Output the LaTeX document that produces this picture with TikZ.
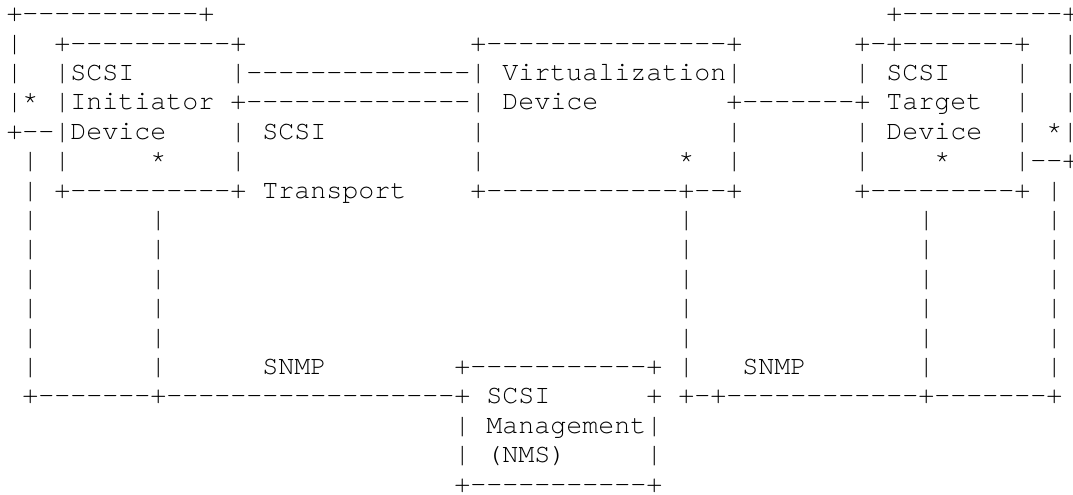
\documentclass[tikz,border=0pt]{standalone}
\usepackage{fontspec}
\newfontfamily\asciifont{texgyrecursor-regular.otf}[Ligatures=TeXOff]
\ExplSyntaxOn
\cs_new:Npn \asciidash #1 { \prg_replicate:nn {#1} {-} }
\ExplSyntaxOff
\newcommand\asciigap[1]{\hskip#1\dimexpr.6em\relax}
\tikzset{asciirow/.style={anchor=base west,inner sep=0pt,outer sep=0pt,
    font=\asciifont\fontsize{13.333pt}{14.7pt}\selectfont}}

\begin{document}
\begin{tikzpicture}[x=0.5pt,y=0.5pt]
    \useasboundingbox (0,0) rectangle (1073,494);
    \begin{scope}[shift={(6.5,472.3)},x=8pt,y=-14.7pt]
        % initiator, virtualization and target boxes
        \node[asciirow] (r0) at (0,0) {+\asciidash{11}+\asciigap{42}+\asciidash{10}\rlap{+}};
        \node[asciirow] (r1) at (0,1) {|\asciigap{2}+\asciidash{10}+\asciigap{14}+\asciidash{15}+\asciigap{7}+-+\asciidash{7}+\asciigap{2}\rlap{|}};
        \node[asciirow] (r2) at (0,2) {|\asciigap{2}|SCSI\asciigap{6}|\asciidash{14}|\asciigap{1}Virtualization|\asciigap{7}|\asciigap{1}SCSI\asciigap{4}|\asciigap{2}\rlap{|}};
        \node[asciirow] (r3) at (0,3) {|*\asciigap{1}|Initiator\asciigap{1}+\asciidash{14}|\asciigap{1}Device\asciigap{8}+\asciidash{7}+\asciigap{1}Target\asciigap{2}|\asciigap{2}\rlap{|}};
        \node[asciirow] (r4) at (0,4) {+--|Device\asciigap{4}|\asciigap{1}SCSI\asciigap{9}|\asciigap{15}|\asciigap{7}|\asciigap{1}Device\asciigap{2}|\asciigap{1}*\rlap{|}};
        \node[asciirow] (r5) at (0,5) {\asciigap{1}|\asciigap{1}|\asciigap{5}*\asciigap{4}|\asciigap{14}|\asciigap{12}*\asciigap{2}|\asciigap{7}|\asciigap{4}*\asciigap{4}|-\rlap{-+}};
        \node[asciirow] (r6) at (0,6) {\asciigap{1}|\asciigap{1}+\asciidash{10}+\asciigap{1}Transport\asciigap{4}+\asciidash{12}+--+\asciigap{7}+\asciidash{9}+\asciigap{1}|};
        % SNMP lines down to the manager
        \foreach \k in {7,...,11}
            \node[asciirow] (r\k) at (0,\k) {\asciigap{1}|\asciigap{7}|\asciigap{32}|\asciigap{14}|\asciigap{7}|};
        \node[asciirow] (r12) at (0,12) {\asciigap{1}|\asciigap{7}|\asciigap{6}SNMP\asciigap{8}+\asciidash{11}+\asciigap{1}|\asciigap{3}SNMP\asciigap{7}|\asciigap{7}|};
        \node[asciirow] (r13) at (0,13) {\asciigap{1}+\asciidash{7}+\asciidash{18}+\asciigap{1}SCSI\asciigap{6}+\asciigap{1}+-+\asciidash{12}+\asciidash{7}+};
        % management station
        \node[asciirow] (r14) at (0,14) {\asciigap{28}|\asciigap{1}Management|};
        \node[asciirow] (r15) at (0,15) {\asciigap{28}|\asciigap{1}(NMS)\asciigap{5}|};
        \node[asciirow] (r16) at (0,16) {\asciigap{28}+\asciidash{11}+};
    \end{scope}
\end{tikzpicture}
\end{document}
